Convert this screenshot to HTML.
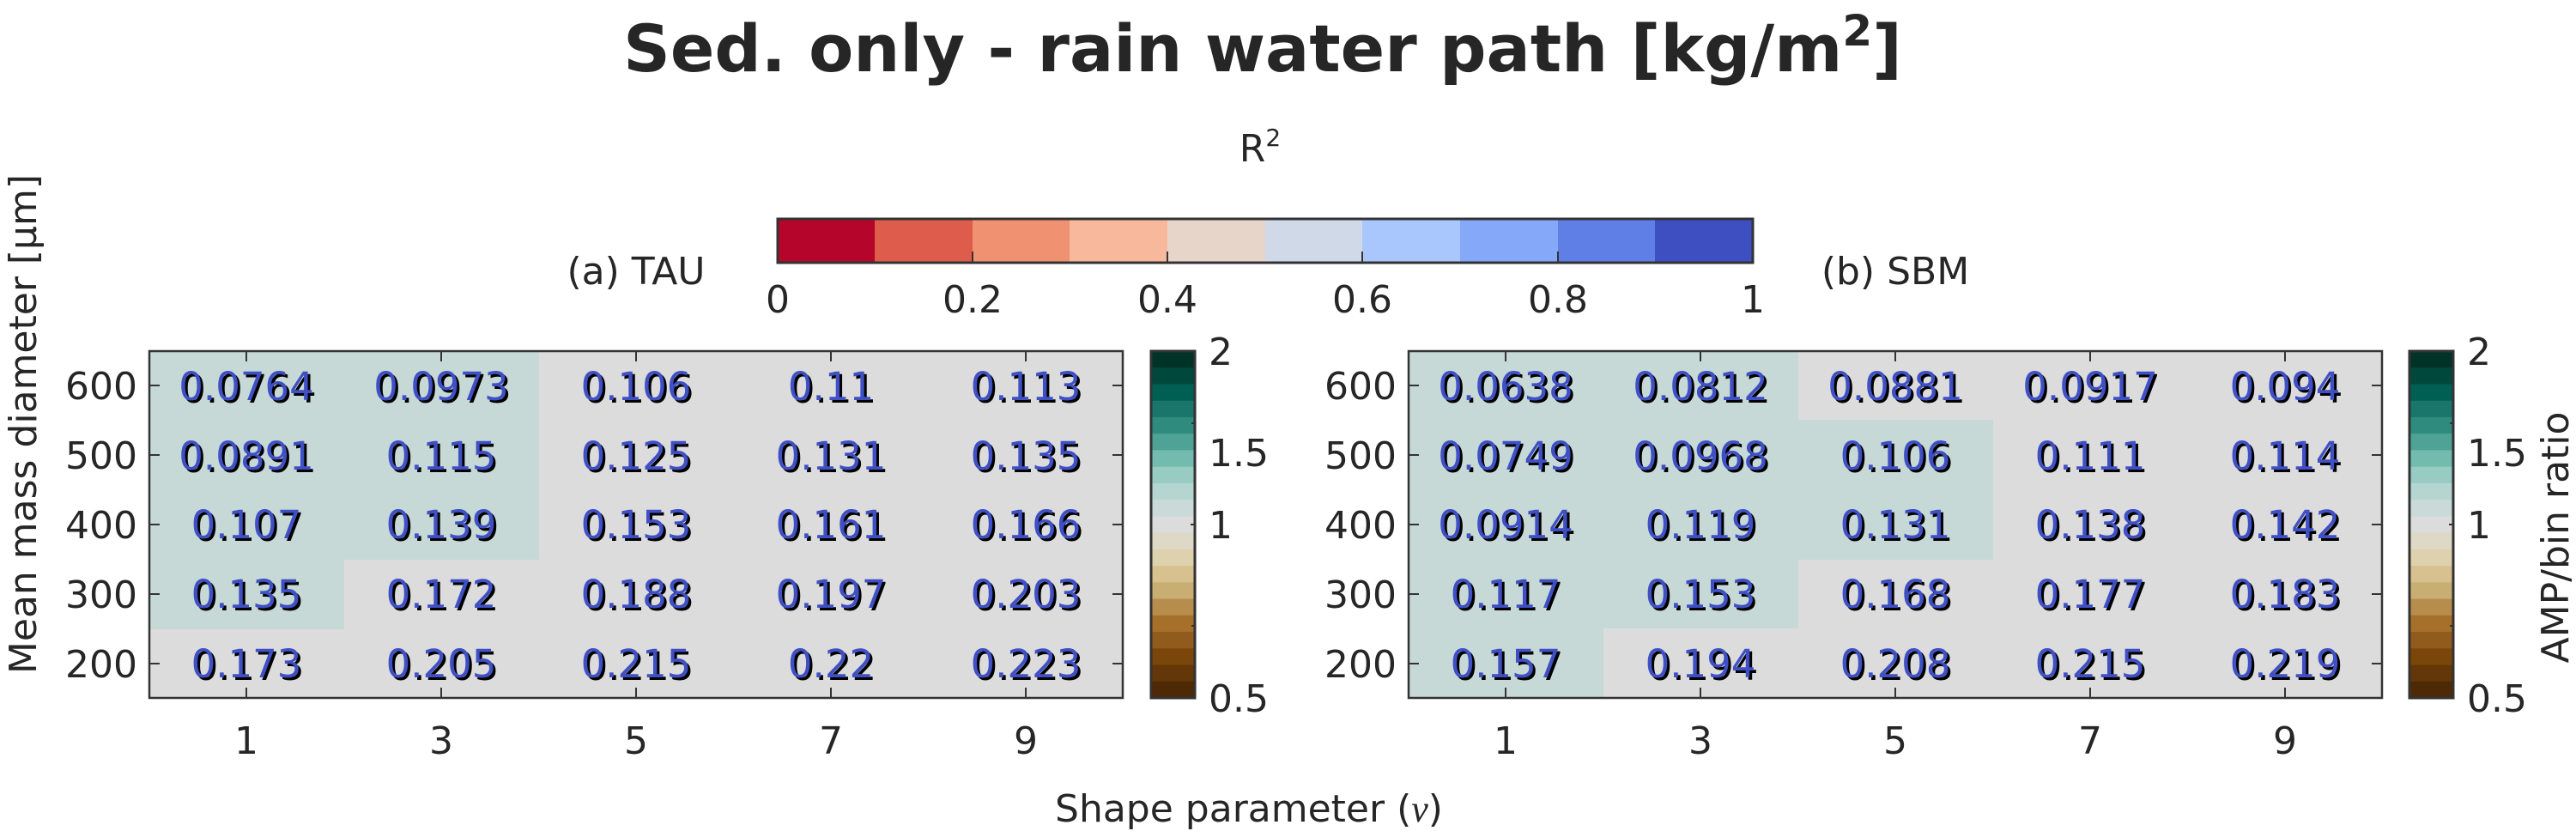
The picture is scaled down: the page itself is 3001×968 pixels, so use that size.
<!DOCTYPE html>
<html><head><meta charset="utf-8"><style>
html,body{margin:0;padding:0;background:#fff;}
svg{display:block;font-family:"DejaVu Sans","Liberation Sans",sans-serif;}
.v{font-size:45px;fill:#3f4fc4;text-anchor:middle;}
.s{font-size:45px;fill:#000;text-anchor:middle;}
.t{font-size:44px;fill:#262626;}
</style></head><body>
<svg width="3001" height="968" viewBox="0 0 3001 968" xmlns="http://www.w3.org/2000/svg">
<rect width="3001" height="968" fill="#fff"/>
<text x="1471" y="83" font-size="76" font-weight="bold" fill="#262626" text-anchor="middle">Sed. only - rain water path [kg/m<tspan font-size="50" dy="-30">2</tspan><tspan dy="30">]</tspan></text>
<text x="1468" y="188" class="t" text-anchor="middle" font-size="40">R<tspan font-size="28" dy="-18">2</tspan></text>
<g>
<rect x="906" y="255" width="114" height="51" fill="#b5052a"/>
<rect x="1019" y="255" width="114" height="51" fill="#dd5c4b"/>
<rect x="1133" y="255" width="114" height="51" fill="#f09172"/>
<rect x="1246" y="255" width="114" height="51" fill="#f7b89c"/>
<rect x="1360" y="255" width="114" height="51" fill="#e8d5c9"/>
<rect x="1474" y="255" width="114" height="51" fill="#cfd9e8"/>
<rect x="1587" y="255" width="114" height="51" fill="#aac7fd"/>
<rect x="1701" y="255" width="114" height="51" fill="#85a8f8"/>
<rect x="1815" y="255" width="114" height="51" fill="#5f7fe6"/>
<rect x="1928" y="255" width="114" height="51" fill="#3e4fc1"/>
<rect x="906" y="255" width="1136" height="51" fill="none" stroke="#333" stroke-width="3"/>
<path d="M1133 306v-13M1360 306v-13M1587 306v-13M1815 306v-13" stroke="#333" stroke-width="2"/>
<g class="t" text-anchor="middle"><text x="906" y="364">0</text><text x="1133" y="364">0.2</text><text x="1360" y="364">0.4</text><text x="1587" y="364">0.6</text><text x="1815" y="364">0.8</text><text x="2042" y="364">1</text></g>
</g>
<text x="741" y="331" class="t" font-size="50" text-anchor="middle">(a) TAU</text>
<text x="2208" y="331" class="t" font-size="50" text-anchor="middle">(b) SBM</text>
<!-- plot a -->
<rect x="174" y="409" width="1134" height="404" fill="#dcdcdc"/>
<rect x="174" y="409" width="454" height="243" fill="#c6d9d7"/>
<rect x="174" y="651" width="227" height="82" fill="#c6d9d7"/>
<!-- plot b -->
<rect x="1641" y="409" width="1134" height="404" fill="#dcdcdc"/>
<rect x="1641" y="409" width="454" height="404" fill="#c6d9d7"/>
<rect x="2094" y="489" width="228" height="163" fill="#c6d9d7"/>
<rect x="1868" y="732" width="227" height="82" fill="#dcdcdc"/>
<g stroke="#333" stroke-width="2.5" fill="none">
<rect x="174" y="409" width="1134" height="404"/>
<rect x="1641" y="409" width="1134" height="404"/>
</g>
<g stroke="#333" stroke-width="2">
<path d="M287 409v12M514 409v12M741 409v12M968 409v12M1195 409v12M287 813v-12M514 813v-12M741 813v-12M968 813v-12M1195 813v-12"/>
<path d="M174 449h12M174 530h12M174 611h12M174 692h12M174 773h12M1308 449h-12M1308 530h-12M1308 611h-12M1308 692h-12M1308 773h-12"/>
<path d="M1754 409v12M1981 409v12M2208 409v12M2435 409v12M2662 409v12M1754 813v-12M1981 813v-12M2208 813v-12M2435 813v-12M2662 813v-12"/>
<path d="M1641 449h12M1641 530h12M1641 611h12M1641 692h12M1641 773h12M2775 449h-12M2775 530h-12M2775 611h-12M2775 692h-12M2775 773h-12"/>
</g>
<g class="t" text-anchor="end">
<text x="160" y="465">600</text><text x="160" y="546">500</text><text x="160" y="627">400</text><text x="160" y="708">300</text><text x="160" y="789">200</text>
<text x="1627" y="465">600</text><text x="1627" y="546">500</text><text x="1627" y="627">400</text><text x="1627" y="708">300</text><text x="1627" y="789">200</text>
</g>
<g class="t" text-anchor="middle">
<text x="287" y="878">1</text><text x="514" y="878">3</text><text x="741" y="878">5</text><text x="968" y="878">7</text><text x="1195" y="878">9</text>
<text x="1754" y="878">1</text><text x="1981" y="878">3</text><text x="2208" y="878">5</text><text x="2435" y="878">7</text><text x="2662" y="878">9</text>
</g>
<text class="t" font-size="49" text-anchor="middle" transform="translate(42,494) rotate(-90)">Mean mass diameter [μm]</text>
<text class="t" font-size="50" x="1455" y="957" text-anchor="middle">Shape parameter (<tspan font-family="Liberation Serif" font-style="italic">ν</tspan>)</text>
<text class="t" font-size="56" text-anchor="middle" transform="translate(2992,626) rotate(-90)">AMP/bin ratio</text>
<!-- values a -->
<g>
<g transform="translate(3,3)">
<text class="s" x="287" y="466">0.0764</text><text class="s" x="514" y="466">0.0973</text><text class="s" x="741" y="466">0.106</text><text class="s" x="968" y="466">0.11</text><text class="s" x="1195" y="466">0.113</text>
<text class="s" x="287" y="547">0.0891</text><text class="s" x="514" y="547">0.115</text><text class="s" x="741" y="547">0.125</text><text class="s" x="968" y="547">0.131</text><text class="s" x="1195" y="547">0.135</text>
<text class="s" x="287" y="627">0.107</text><text class="s" x="514" y="627">0.139</text><text class="s" x="741" y="627">0.153</text><text class="s" x="968" y="627">0.161</text><text class="s" x="1195" y="627">0.166</text>
<text class="s" x="287" y="708">0.135</text><text class="s" x="514" y="708">0.172</text><text class="s" x="741" y="708">0.188</text><text class="s" x="968" y="708">0.197</text><text class="s" x="1195" y="708">0.203</text>
<text class="s" x="287" y="789">0.173</text><text class="s" x="514" y="789">0.205</text><text class="s" x="741" y="789">0.215</text><text class="s" x="968" y="789">0.22</text><text class="s" x="1195" y="789">0.223</text>
</g>
<text class="v" x="287" y="466">0.0764</text><text class="v" x="514" y="466">0.0973</text><text class="v" x="741" y="466">0.106</text><text class="v" x="968" y="466">0.11</text><text class="v" x="1195" y="466">0.113</text>
<text class="v" x="287" y="547">0.0891</text><text class="v" x="514" y="547">0.115</text><text class="v" x="741" y="547">0.125</text><text class="v" x="968" y="547">0.131</text><text class="v" x="1195" y="547">0.135</text>
<text class="v" x="287" y="627">0.107</text><text class="v" x="514" y="627">0.139</text><text class="v" x="741" y="627">0.153</text><text class="v" x="968" y="627">0.161</text><text class="v" x="1195" y="627">0.166</text>
<text class="v" x="287" y="708">0.135</text><text class="v" x="514" y="708">0.172</text><text class="v" x="741" y="708">0.188</text><text class="v" x="968" y="708">0.197</text><text class="v" x="1195" y="708">0.203</text>
<text class="v" x="287" y="789">0.173</text><text class="v" x="514" y="789">0.205</text><text class="v" x="741" y="789">0.215</text><text class="v" x="968" y="789">0.22</text><text class="v" x="1195" y="789">0.223</text>
</g>
<!-- values b -->
<g>
<g transform="translate(3,3)">
<text class="s" x="1754" y="466">0.0638</text><text class="s" x="1981" y="466">0.0812</text><text class="s" x="2208" y="466">0.0881</text><text class="s" x="2435" y="466">0.0917</text><text class="s" x="2662" y="466">0.094</text>
<text class="s" x="1754" y="547">0.0749</text><text class="s" x="1981" y="547">0.0968</text><text class="s" x="2208" y="547">0.106</text><text class="s" x="2435" y="547">0.111</text><text class="s" x="2662" y="547">0.114</text>
<text class="s" x="1754" y="627">0.0914</text><text class="s" x="1981" y="627">0.119</text><text class="s" x="2208" y="627">0.131</text><text class="s" x="2435" y="627">0.138</text><text class="s" x="2662" y="627">0.142</text>
<text class="s" x="1754" y="708">0.117</text><text class="s" x="1981" y="708">0.153</text><text class="s" x="2208" y="708">0.168</text><text class="s" x="2435" y="708">0.177</text><text class="s" x="2662" y="708">0.183</text>
<text class="s" x="1754" y="789">0.157</text><text class="s" x="1981" y="789">0.194</text><text class="s" x="2208" y="789">0.208</text><text class="s" x="2435" y="789">0.215</text><text class="s" x="2662" y="789">0.219</text>
</g>
<text class="v" x="1754" y="466">0.0638</text><text class="v" x="1981" y="466">0.0812</text><text class="v" x="2208" y="466">0.0881</text><text class="v" x="2435" y="466">0.0917</text><text class="v" x="2662" y="466">0.094</text>
<text class="v" x="1754" y="547">0.0749</text><text class="v" x="1981" y="547">0.0968</text><text class="v" x="2208" y="547">0.106</text><text class="v" x="2435" y="547">0.111</text><text class="v" x="2662" y="547">0.114</text>
<text class="v" x="1754" y="627">0.0914</text><text class="v" x="1981" y="627">0.119</text><text class="v" x="2208" y="627">0.131</text><text class="v" x="2435" y="627">0.138</text><text class="v" x="2662" y="627">0.142</text>
<text class="v" x="1754" y="708">0.117</text><text class="v" x="1981" y="708">0.153</text><text class="v" x="2208" y="708">0.168</text><text class="v" x="2435" y="708">0.177</text><text class="v" x="2662" y="708">0.183</text>
<text class="v" x="1754" y="789">0.157</text><text class="v" x="1981" y="789">0.194</text><text class="v" x="2208" y="789">0.208</text><text class="v" x="2435" y="789">0.215</text><text class="v" x="2662" y="789">0.219</text>
</g>
<!-- colorbars -->
<defs>
<g id="cb">
<rect x="0" y="0" width="51" height="20" fill="#003328"/>
<rect x="0" y="19.2" width="51" height="20" fill="#00473c"/>
<rect x="0" y="38.5" width="51" height="20" fill="#005f53"/>
<rect x="0" y="57.7" width="51" height="20" fill="#1a756b"/>
<rect x="0" y="77" width="51" height="20" fill="#2e8b7e"/>
<rect x="0" y="96.2" width="51" height="20" fill="#4ea396"/>
<rect x="0" y="115.4" width="51" height="20" fill="#73bbae"/>
<rect x="0" y="134.7" width="51" height="20" fill="#98cbc2"/>
<rect x="0" y="153.9" width="51" height="20" fill="#b5d6d0"/>
<rect x="0" y="173.1" width="51" height="20" fill="#c9dad8"/>
<rect x="0" y="192.4" width="51" height="20" fill="#dcdcdc"/>
<rect x="0" y="211.6" width="51" height="20" fill="#ded8c7"/>
<rect x="0" y="230.9" width="51" height="20" fill="#ded1ad"/>
<rect x="0" y="250.1" width="51" height="20" fill="#d6c18f"/>
<rect x="0" y="269.3" width="51" height="20" fill="#c9ae74"/>
<rect x="0" y="288.6" width="51" height="20" fill="#b78d4e"/>
<rect x="0" y="307.8" width="51" height="20" fill="#a6702b"/>
<rect x="0" y="327" width="51" height="20" fill="#905b1c"/>
<rect x="0" y="346.3" width="51" height="20" fill="#7b4609"/>
<rect x="0" y="365.5" width="51" height="20" fill="#633707"/>
<rect x="0" y="384.8" width="51" height="19.2" fill="#4d2a05"/>
<rect x="0" y="0" width="51" height="404" fill="none" stroke="#333" stroke-width="3"/>
<path d="M51 84h-4M51 202h-5M51 320h-4" stroke="#333" stroke-width="2"/>
<g class="t"><text x="67" y="16">2</text><text x="67" y="134">1.5</text><text x="67" y="218">1</text><text x="67" y="420">0.5</text></g>
</g>
</defs>
<use href="#cb" x="1341" y="409"/>
<use href="#cb" x="2807" y="409"/>
</svg>
</body></html>
